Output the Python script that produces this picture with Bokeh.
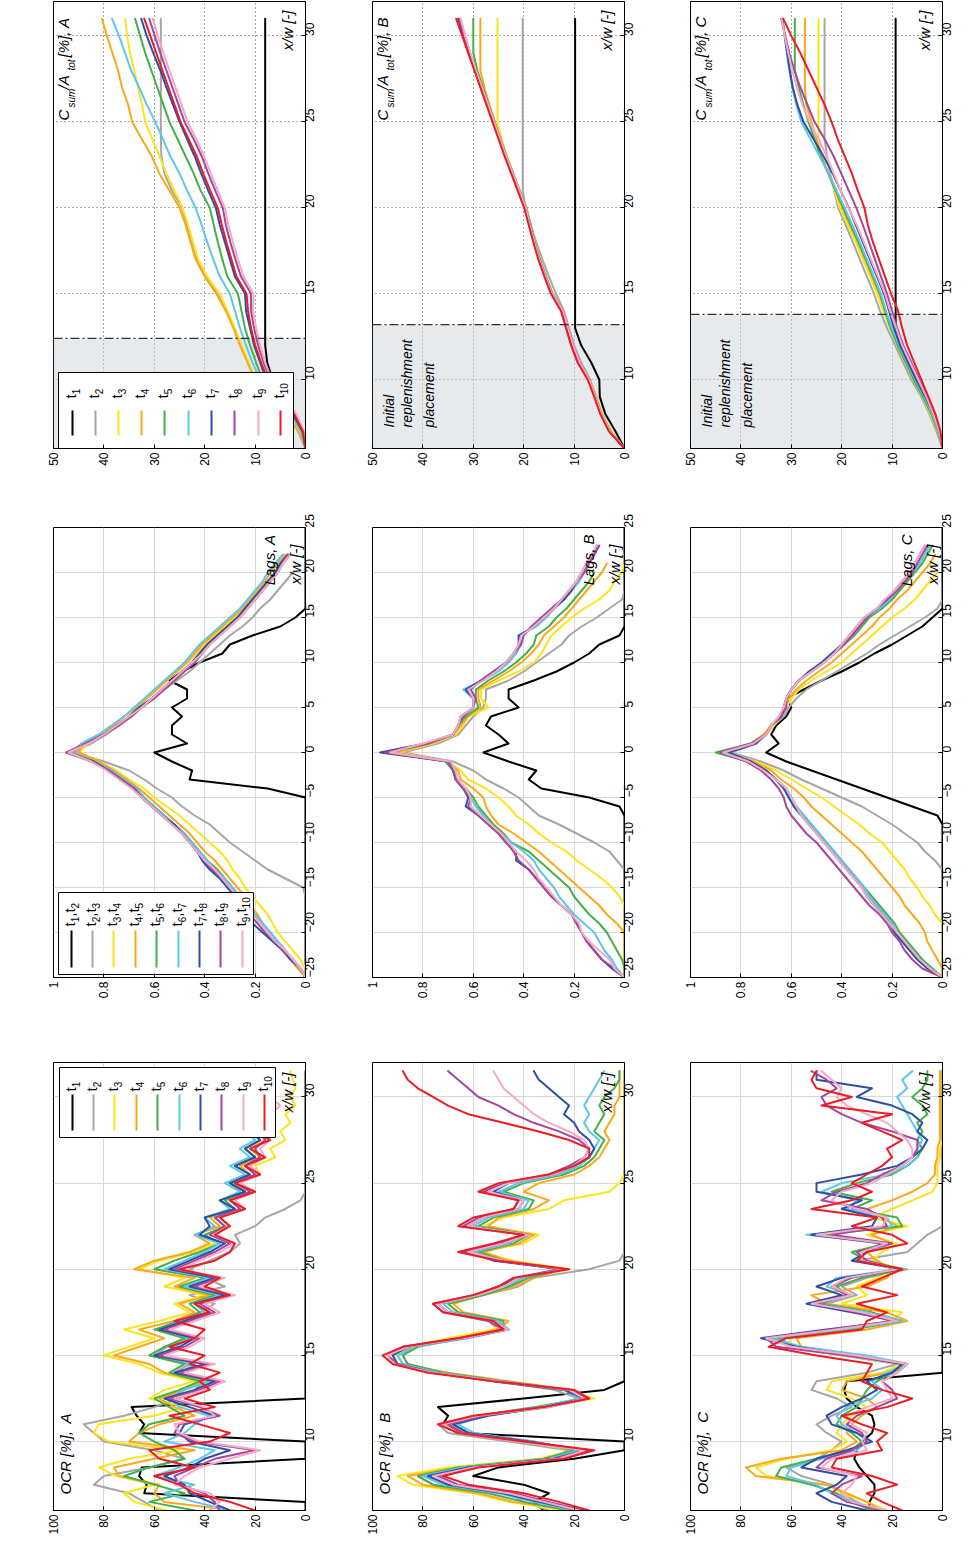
import math
import numpy as np
from bokeh.plotting import figure
from bokeh.layouts import column, row
from bokeh.models import Range1d, FixedTicker, Label, BoxAnnotation, Span
from bokeh.embed import file_html
from bokeh.resources import INLINE

# ---------------- data ----------------
SERIES = ["t1", "t2", "t3", "t4", "t5", "t6", "t7", "t8", "t9", "t10"]
COLORS = ["#000000", "#a6a6a6", "#fbe51a", "#fba81b", "#44b04a", "#5cc7ea",
          "#2b4ea6", "#a6479d", "#f6a9c5", "#ec1c24"]
# legend entries as (text, is_subscript) pieces
LEG_T = [[("t", False), (str(i), True)] for i in range(1, 11)]
LEG_LAG = [[("t", False), (str(i), True), (",t", False), (str(i + 1), True)] for i in range(1, 10)]
ROW_LETTERS = ["A", "B", "C"]

# x/w sample positions for OCR panels (a)
XW_OCR = [6.0, 6.5, 7.0, 7.5, 8.0, 8.5, 9.0, 9.5, 10.0, 10.5,
          11.0, 11.5, 12.0, 12.5, 13.0, 13.5, 14.0, 14.5, 15.0, 15.5,
          16.0, 16.5, 17.0, 17.5, 18.0, 18.5, 19.0, 19.5, 20.0, 20.5,
          21.0, 21.5, 22.0, 22.5, 23.0, 23.5, 24.0, 24.5, 25.0, 25.5,
          26.0, 26.5, 27.0, 27.5, 28.0, 28.5, 29.0, 29.5, 30.0, 30.5,
          31.0, 31.5]
# lag positions for panels (b)
LAGS = list(range(-25, 26))
# x/w positions for cumulative panels (c)
XW_CUM = list(range(6, 32))

N = None
ocr_A = [
 [0, 0, 64, 63, 66, 65, 0, 0, 0, 66,  64, 67, 69, 0, 0, 0, 0, 0, 0, 0,
  0, 0, 0, 0, 0, 0, 0, 0, 0, 0,  0, 0, 0, 0, 0, 0, 0, 0, 0, 0,
  0, 0, 0, 0, 0, 0, 0, 0, 0, 0,  0, 0],
 [58, 64, 70, 84, 80, 62, 48, 60, 80, 84,  88, 72, 60, 50, 44, 40, 52, 46, 60, 55,
  47, 56, 50, 42, 36, 46, 32, 40, 46, 38,  30, 26, 28, 20, 16, 8, 2, 0, 0, 0,
  0, 0, 0, 0, 0, 0, 0, 0, 0, 0,  0, 0],
 [55, 68, 72, 60, 75, 82, 70, 50, 78, 84,  82, 60, 48, 62, 56, 44, 58, 66, 80, 70,
  60, 72, 58, 46, 52, 40, 56, 48, 66, 58,  44, 36, 40, 30, 34, 26, 30, 22, 28, 18,
  20, 12, 14, 8, 10, 6, 8, 4, 6, 4,  5, 6],
 [28, 56, 60, 58, 74, 76, 60, 44, 70, 66,  58, 44, 52, 58, 48, 40, 56, 62, 76, 66,
  56, 66, 52, 44, 50, 38, 52, 44, 68, 60,  46, 38, 44, 34, 38, 30, 34, 26, 30, 22,
  26, 18, 22, 16, 20, 14, 18, 12, 16, 14,  18, 20],
 [44, 62, 48, 60, 72, 62, 48, 52, 60, 66,  62, 48, 54, 60, 50, 42, 54, 48, 62, 56,
  48, 60, 50, 42, 46, 36, 50, 40, 60, 52,  42, 34, 40, 32, 36, 28, 32, 24, 30, 22,
  28, 20, 24, 18, 22, 16, 20, 14, 18, 16,  20, 22],
 [30, 44, 56, 44, 60, 50, 42, 36, 56, 48,  44, 38, 50, 54, 48, 38, 50, 44, 58, 52,
  46, 56, 50, 40, 44, 34, 48, 38, 56, 48,  40, 34, 44, 36, 40, 30, 34, 26, 32, 24,
  30, 22, 26, 20, 24, 18, 22, 16, 20, 18,  22, 24],
 [30, 38, 46, 48, 56, 46, 40, 30, 46, 50,  48, 36, 46, 56, 44, 36, 52, 40, 60, 50,
  44, 58, 48, 38, 44, 32, 46, 36, 54, 46,  38, 32, 42, 38, 40, 28, 34, 24, 30, 22,
  28, 20, 24, 18, 22, 16, 18, 14, 18, 20,  24, 26],
 [34, 36, 40, 50, 52, 44, 36, 20, 44, 52,  50, 34, 42, 54, 42, 34, 50, 38, 58, 48,
  42, 56, 46, 36, 42, 30, 44, 34, 52, 44,  36, 30, 38, 32, 36, 26, 30, 22, 28, 20,
  24, 18, 20, 16, 18, 14, 16, 12, 16, 18,  20, 22],
 [38, 34, 38, 52, 48, 42, 30, 18, 42, 50,  52, 36, 40, 52, 40, 32, 48, 36, 56, 46,
  40, 54, 44, 34, 40, 28, 42, 32, 50, 42,  34, 28, 36, 30, 34, 24, 28, 20, 26, 18,
  22, 16, 18, 14, 16, 12, 14, 10, 14, 16,  18, 20],
 [20, 30, 44, 50, 60, 44, 58, 62, 38, 30,  42, 54, 36, 48, 38, 42, 34, 46, 40, 54,
  44, 40, 52, 38, 44, 30, 40, 34, 50, 36,  30, 28, 36, 30, 34, 24, 30, 20, 28, 18,
  24, 16, 22, 14, 20, 14, 18, 12, 16, 14,  18, 20],
]
ocr_B = [
 [32, 36, 30, 40, 60, 50, 20, 0, 0, 64,  72, 70, 74, 40, 8, 0, 0, 0, 0, 0,
  0, 0, 0, 0, 0, 0, 0, 0, 0, 0,  0, 0, 0, 0, 0, 0, 0, 0, 0, 0,
  0, 0, 0, 0, 0, 0, 0, 0, 0, 0,  0, 0],
 [30, 40, 46, 76, 82, 64, 30, 22, 46, 70,  74, 56, 30, 18, 28, 52, 72, 86, 88, 84,
  66, 50, 54, 70, 74, 56, 42, 36, 14, 2,  0, 0, 0, 0, 0, 0, 0, 0, 0, 0,
  0, 0, 0, 0, 0, 0, 0, 0, 0, 0,  0, 0],
 [24, 46, 60, 84, 90, 70, 34, 20, 40, 66,  72, 60, 32, 12, 22, 50, 74, 90, 92, 86,
  70, 52, 48, 66, 70, 60, 46, 40, 22, 44,  58, 40, 34, 56, 48, 30, 24, 6, 2, 0,
  0, 0, 0, 0, 0, 0, 0, 0, 0, 0,  0, 0],
 [20, 44, 58, 80, 86, 66, 30, 18, 38, 64,  70, 58, 34, 14, 20, 46, 70, 88, 90, 84,
  66, 50, 46, 64, 68, 56, 44, 36, 24, 46,  56, 42, 36, 54, 50, 36, 30, 40, 34, 20,
  14, 10, 8, 6, 8, 6, 4, 4, 2, 2,  2, 2],
 [22, 40, 54, 76, 82, 66, 32, 20, 36, 62,  68, 58, 36, 16, 22, 48, 72, 86, 88, 82,
  64, 48, 48, 66, 70, 56, 46, 38, 24, 48,  58, 44, 38, 58, 52, 38, 36, 48, 40, 24,
  16, 12, 10, 8, 12, 10, 8, 10, 8, 4,  2, 2],
 [20, 36, 50, 72, 80, 64, 30, 18, 36, 60,  66, 56, 34, 18, 24, 50, 74, 88, 90, 84,
  62, 46, 50, 68, 72, 58, 48, 40, 26, 50,  60, 46, 40, 60, 54, 40, 38, 50, 42, 26,
  18, 14, 12, 10, 14, 16, 14, 16, 14, 12,  10, 8],
 [18, 34, 48, 70, 78, 62, 28, 16, 38, 62,  68, 54, 32, 16, 24, 52, 76, 90, 92, 86,
  64, 46, 52, 70, 74, 58, 50, 42, 24, 52,  62, 48, 38, 62, 56, 42, 40, 52, 46, 28,
  20, 14, 12, 14, 18, 20, 24, 22, 26, 30,  34, 36],
 [16, 30, 44, 66, 74, 60, 28, 14, 40, 64,  70, 56, 30, 14, 22, 50, 76, 90, 94, 88,
  66, 48, 54, 72, 76, 60, 50, 44, 26, 50,  64, 50, 40, 64, 58, 44, 42, 56, 48, 30,
  22, 16, 14, 18, 26, 36, 44, 50, 58, 62,  66, 70],
 [18, 32, 46, 68, 76, 60, 26, 16, 42, 66,  72, 58, 30, 16, 22, 50, 76, 92, 94, 86,
  64, 46, 52, 70, 74, 58, 48, 42, 24, 48,  62, 48, 38, 62, 56, 42, 40, 54, 46, 28,
  20, 16, 14, 16, 22, 30, 36, 40, 44, 48,  50, 52],
 [14, 26, 40, 62, 72, 58, 24, 12, 40, 66,  74, 60, 32, 14, 20, 52, 78, 92, 96, 88,
  66, 48, 52, 72, 76, 60, 50, 44, 22, 50,  66, 52, 40, 66, 60, 44, 42, 58, 50, 30,
  20, 14, 14, 22, 34, 48, 62, 70, 76, 82,  86, 88],
]
ocr_C = [
 [29, 29, 27, 27, 30, 33, 35, 34, 32, 28,  27, 28, 34, 38, 39, 38, 0, 0, 0, 0,
  0, 0, 0, 0, 0, 0, 0, 0, 0, 0,  0, 0, 0, 0, 0, 0, 0, 0, 0, 0,
  0, 0, 0, 0, 0, 0, 0, 0, 0, 0,  0, 0],
 [28, 34, 40, 44, 56, 62, 50, 44, 40, 46,  50, 44, 36, 42, 52, 50, 30, 18, 40, 60,
  64, 38, 18, 30, 46, 34, 40, 30, 14, 34,  14, 10, 6, 0, 0, 0, 0, 0, 0, 0,
  0, 0, 0, 0, 0, 0, 0, 0, 0, 0,  0, 0],
 [22, 30, 40, 46, 70, 74, 62, 44, 38, 42,  40, 36, 30, 36, 46, 44, 24, 16, 38, 62,
  60, 34, 20, 16, 40, 30, 34, 26, 16, 28,  24, 18, 30, 14, 28, 20, 12, 4, 2, 2,
  2, 1, 1, 0, 0, 0, 0, 0, 0, 0,  0, 0],
 [24, 30, 38, 46, 74, 78, 64, 40, 34, 38,  36, 32, 26, 30, 40, 38, 22, 14, 34, 56,
  58, 30, 14, 22, 46, 52, 30, 22, 20, 26,  30, 20, 28, 18, 24, 30, 20, 12, 6, 3,
  3, 2, 2, 1, 1, 1, 1, 1, 1, 1,  1, 1],
 [28, 36, 42, 52, 66, 64, 50, 36, 32, 36,  42, 40, 34, 32, 30, 26, 20, 14, 32, 58,
  66, 36, 16, 28, 48, 38, 42, 32, 16, 30,  36, 22, 48, 16, 18, 36, 28, 44, 34, 20,
  14, 10, 8, 10, 8, 10, 6, 8, 12, 8,  6, 6],
 [26, 34, 44, 50, 62, 60, 48, 34, 30, 34,  40, 42, 38, 28, 24, 28, 22, 14, 30, 56,
  68, 40, 16, 30, 50, 36, 46, 42, 18, 34,  30, 20, 54, 20, 22, 38, 34, 48, 40, 22,
  14, 10, 10, 8, 10, 12, 14, 16, 18, 14,  16, 12],
 [30, 44, 50, 42, 38, 56, 50, 38, 28, 34,  44, 46, 40, 32, 26, 30, 20, 16, 36, 58,
  72, 46, 18, 36, 54, 40, 50, 40, 16, 36,  30, 24, 52, 28, 26, 40, 32, 50, 50, 32,
  18, 12, 8, 6, 10, 8, 12, 20, 34, 28,  50, 50],
 [24, 38, 44, 40, 32, 50, 46, 36, 30, 32,  38, 34, 26, 18, 20, 24, 18, 14, 38, 66,
  70, 44, 20, 34, 50, 38, 44, 36, 18, 30,  34, 20, 44, 22, 24, 30, 48, 42, 30, 24,
  16, 12, 10, 10, 20, 32, 40, 46, 48, 42,  46, 52],
 [22, 36, 40, 36, 34, 48, 44, 30, 32, 30,  36, 38, 30, 20, 22, 24, 18, 14, 34, 60,
  70, 42, 18, 32, 52, 36, 44, 38, 18, 32,  32, 22, 50, 24, 22, 34, 44, 40, 28, 22,
  16, 12, 12, 14, 18, 22, 30, 38, 42, 40,  44, 48],
 [16, 24, 30, 18, 28, 44, 42, 24, 26, 22,  32, 40, 22, 12, 24, 32, 30, 28, 50, 69,
  62, 32, 30, 22, 34, 18, 32, 24, 16, 34,  30, 14, 20, 36, 26, 52, 36, 28, 36, 30,
  24, 20, 22, 16, 24, 32, 20, 48, 36, 50,  52, 50],
]

lag_A = [
 [0, 0, 0, 0, 0, 0, 0, 0, 0, 0,  0, 0, 0, 0, 0, 0, 0, 0, 0, 0,
  0, 0.15, 0.46, 0.45, 0.53, 0.60, 0.47, 0.53, 0.53, 0.49,
  0.53, 0.47, 0.47, 0.54, 0.49, 0.42, 0.33, 0.30, 0.21, 0.10,
  0.04, 0, 0, 0, 0, 0, 0, 0, 0, 0,  0],
 [0, 0, 0, 0, 0, 0, 0, 0, 0, 0,
  0.01, 0.08, 0.15, 0.20, 0.25, 0.30, 0.34, 0.38, 0.44, 0.49,
  0.53, 0.59, 0.64, 0.70, 0.80, 0.92, 0.85, 0.79, 0.74, 0.70,
  0.65, 0.61, 0.56, 0.51, 0.46, 0.42, 0.38, 0.34, 0.30, 0.25,
  0.21, 0.18, 0.14, 0.11, 0.08, 0.05, N, N, N, N,  N],
 [0, 0, 0.02, 0.05, 0.08, 0.11, 0.13, 0.15, 0.18, 0.21,
  0.24, 0.26, 0.29, 0.31, 0.34, 0.38, 0.42, 0.46, 0.50, 0.55,
  0.60, 0.64, 0.70, 0.75, 0.82, 0.90, 0.86, 0.82, 0.77, 0.72,
  0.67, 0.63, 0.59, 0.55, 0.51, 0.47, 0.43, 0.40, 0.36, 0.32,
  0.28, 0.24, 0.21, 0.18, 0.15, 0.12, 0.10, 0.07, N, N,  N],
 [0, 0.03, 0.06, 0.09, 0.12, 0.16, 0.17, 0.19, 0.22, 0.24,
  0.27, 0.30, 0.33, 0.36, 0.40, 0.43, 0.46, 0.50, 0.54, 0.58,
  0.62, 0.66, 0.71, 0.76, 0.82, 0.90, 0.88, 0.81, 0.76, 0.72,
  0.67, 0.63, 0.59, 0.55, 0.51, 0.47, 0.44, 0.41, 0.37, 0.33,
  0.29, 0.25, 0.22, 0.19, 0.16, 0.14, 0.11, 0.08, N, N,  N],
 [0, 0.02, 0.05, 0.08, 0.11, 0.14, 0.17, 0.20, 0.23, 0.26,
  0.29, 0.32, 0.35, 0.39, 0.42, 0.45, 0.48, 0.52, 0.56, 0.60,
  0.64, 0.67, 0.72, 0.77, 0.84, 0.93, 0.87, 0.80, 0.75, 0.70,
  0.66, 0.61, 0.57, 0.53, 0.49, 0.45, 0.42, 0.39, 0.35, 0.31,
  0.27, 0.23, 0.20, 0.17, 0.14, 0.12, 0.09, 0.06, N, N,  N],
 [0, 0.02, 0.05, 0.08, 0.11, 0.14, 0.17, 0.20, 0.23, 0.26,
  0.29, 0.32, 0.36, 0.39, 0.42, 0.45, 0.48, 0.52, 0.56, 0.60,
  0.64, 0.67, 0.72, 0.77, 0.84, 0.93, 0.89, 0.82, 0.77, 0.72,
  0.68, 0.64, 0.60, 0.56, 0.52, 0.48, 0.45, 0.42, 0.38, 0.34,
  0.30, 0.26, 0.23, 0.20, 0.17, 0.15, 0.12, 0.09, N, N,  N],
 [0, 0.02, 0.06, 0.09, 0.13, 0.17, 0.21, 0.23, 0.26, 0.28,
  0.31, 0.34, 0.38, 0.41, 0.43, 0.46, 0.49, 0.52, 0.57, 0.61,
  0.65, 0.68, 0.73, 0.78, 0.84, 0.94, 0.87, 0.80, 0.75, 0.70,
  0.66, 0.61, 0.57, 0.53, 0.49, 0.45, 0.42, 0.39, 0.35, 0.31,
  0.27, 0.24, 0.21, 0.18, 0.15, 0.12, 0.10, 0.07, N, N,  N],
 [0, 0.02, 0.05, 0.09, 0.12, 0.16, 0.19, 0.22, 0.25, 0.27,
  0.30, 0.33, 0.37, 0.40, 0.43, 0.46, 0.49, 0.53, 0.57, 0.61,
  0.65, 0.68, 0.73, 0.78, 0.85, 0.95, 0.87, 0.80, 0.74, 0.69,
  0.65, 0.60, 0.56, 0.52, 0.48, 0.44, 0.41, 0.38, 0.34, 0.30,
  0.26, 0.23, 0.20, 0.17, 0.14, 0.11, 0.09, 0.07, N, N,  N],
 [0, 0.02, 0.05, 0.08, 0.12, 0.15, 0.18, 0.21, 0.24, 0.27,
  0.30, 0.33, 0.36, 0.40, 0.43, 0.46, 0.49, 0.53, 0.57, 0.61,
  0.65, 0.69, 0.74, 0.79, 0.85, 0.94, 0.86, 0.80, 0.75, 0.70,
  0.65, 0.61, 0.57, 0.53, 0.49, 0.45, 0.41, 0.38, 0.34, 0.30,
  0.26, 0.23, 0.20, 0.17, 0.14, 0.11, 0.09, 0.06, N, N,  N],
]
lag_B = [
 [0, 0, 0, 0, 0, 0, 0, 0, 0, 0,  0, 0, 0, 0, 0, 0, 0, 0, 0, 0.02,
  0.14, 0.33, 0.38, 0.35, 0.46, 0.56, 0.46, 0.50, 0.55, 0.53,
  0.42, 0.46, 0.46, 0.36, 0.27, 0.20, 0.14, 0.10, 0.02, 0,
  0, 0, 0, 0, 0, 0, 0, 0, 0, 0,  0],
 [0, 0, 0, 0, 0, 0, 0, 0, 0, 0,
  0, 0, 0, 0.03, 0.06, 0.12, 0.19, 0.26, 0.34, 0.38,
  0.42, 0.48, 0.55, 0.60, 0.68, 0.88, 0.74, 0.66, 0.63, 0.60,
  0.56, 0.55, 0.55, 0.46, 0.40, 0.35, 0.30, 0.25, 0.22, 0.17,
  0.11, 0.06, 0.01, 0, N, N, N, N, N, N,  N],
 [0, 0, 0, 0, 0, 0, 0, 0, 0, 0.02,
  0.05, 0.09, 0.14, 0.19, 0.23, 0.29, 0.34, 0.38, 0.43, 0.46,
  0.50, 0.55, 0.62, 0.65, 0.70, 0.90, 0.76, 0.67, 0.64, 0.62,
  0.54, 0.57, 0.57, 0.50, 0.42, 0.36, 0.33, 0.31, 0.29, 0.25,
  0.21, 0.16, 0.10, 0.06, 0.04, 0.01, 0, 0, N, N,  N],
 [0, 0, 0, 0, 0, 0, 0.03, 0.07, 0.10, 0.14,
  0.18, 0.22, 0.26, 0.30, 0.34, 0.39, 0.44, 0.50, 0.53, 0.55,
  0.56, 0.60, 0.65, 0.66, 0.70, 0.91, 0.77, 0.68, 0.65, 0.62,
  0.57, 0.58, 0.58, 0.52, 0.46, 0.41, 0.37, 0.34, 0.32, 0.28,
  0.24, 0.21, 0.18, 0.15, 0.12, 0.09, 0.07, N, N, N,  N],
 [0, 0, 0.01, 0.03, 0.05, 0.07, 0.10, 0.14, 0.17, 0.20,
  0.22, 0.26, 0.30, 0.34, 0.38, 0.45, 0.48, 0.52, 0.55, 0.58,
  0.60, 0.63, 0.67, 0.68, 0.71, 0.93, 0.78, 0.68, 0.66, 0.63,
  0.58, 0.59, 0.59, 0.54, 0.48, 0.43, 0.39, 0.36, 0.35, 0.30,
  0.27, 0.23, 0.20, 0.17, 0.14, 0.12, N, N, N, N,  N],
 [0, 0.03, 0.05, 0.08, 0.10, 0.12, 0.16, 0.20, 0.23, 0.26,
  0.28, 0.31, 0.34, 0.36, 0.40, 0.45, 0.49, 0.53, 0.56, 0.59,
  0.61, 0.64, 0.67, 0.67, 0.70, 0.94, 0.79, 0.68, 0.66, 0.64,
  0.60, 0.60, 0.64, 0.56, 0.50, 0.46, 0.43, 0.41, 0.42, 0.35,
  0.31, 0.28, 0.24, 0.21, 0.18, 0.16, 0.15, 0.12, 0.10, N,  N],
 [0, 0.05, 0.09, 0.12, 0.15, 0.17, 0.19, 0.21, 0.25, 0.29,
  0.32, 0.35, 0.38, 0.43, 0.43, 0.47, 0.50, 0.54, 0.58, 0.63,
  0.62, 0.64, 0.67, 0.68, 0.70, 0.97, 0.79, 0.68, 0.66, 0.65,
  0.60, 0.60, 0.63, 0.57, 0.52, 0.47, 0.44, 0.42, 0.42, 0.36,
  0.32, 0.28, 0.24, 0.21, 0.19, 0.17, 0.15, 0.12, 0.11, N,  N],
 [0, 0.04, 0.09, 0.12, 0.15, 0.17, 0.19, 0.21, 0.25, 0.29,
  0.32, 0.35, 0.38, 0.42, 0.44, 0.47, 0.50, 0.54, 0.58, 0.62,
  0.61, 0.64, 0.67, 0.68, 0.70, 0.95, 0.78, 0.68, 0.66, 0.64,
  0.60, 0.59, 0.61, 0.57, 0.52, 0.47, 0.44, 0.41, 0.40, 0.37,
  0.33, 0.29, 0.25, 0.22, 0.19, 0.16, 0.14, 0.12, 0.10, N,  N],
 [0, 0.04, 0.06, 0.10, 0.14, 0.17, 0.18, 0.21, 0.25, 0.28,
  0.31, 0.34, 0.36, 0.39, 0.43, 0.46, 0.49, 0.53, 0.57, 0.61,
  0.61, 0.63, 0.66, 0.67, 0.69, 0.93, 0.80, 0.68, 0.66, 0.65,
  0.60, 0.60, 0.62, 0.56, 0.51, 0.47, 0.44, 0.42, 0.41, 0.36,
  0.32, 0.28, 0.25, 0.22, 0.19, 0.17, 0.15, 0.13, 0.11, N,  N],
]
lag_C = [
 [0, 0, 0, 0, 0, 0, 0, 0, 0, 0,  0, 0, 0, 0, 0, 0, 0, 0, 0.02, 0.12,
  0.22, 0.32, 0.42, 0.52, 0.62, 0.70, 0.65, 0.68, 0.66, 0.62,
  0.60, 0.62, 0.55, 0.48, 0.40, 0.33, 0.27, 0.20, 0.14, 0.08,
  0.04, 0, 0, 0, 0, 0, 0, 0, 0, 0,  0],
 [0, 0, 0, 0, 0, 0, 0, 0, 0, 0,
  0, 0, 0, 0.03, 0.07, 0.10, 0.15, 0.20, 0.26, 0.32,
  0.40, 0.48, 0.56, 0.63, 0.72, 0.84, 0.74, 0.70, 0.67, 0.63,
  0.61, 0.58, 0.54, 0.48, 0.42, 0.36, 0.30, 0.25, 0.19, 0.13,
  0.07, 0.02, 0, N, N, N, N, N, N, N,  N],
 [0, 0, 0, 0, 0, 0, 0, 0.03, 0.05, 0.08,
  0.10, 0.13, 0.15, 0.18, 0.21, 0.24, 0.29, 0.33, 0.38, 0.43,
  0.48, 0.54, 0.60, 0.66, 0.74, 0.88, 0.76, 0.70, 0.67, 0.64,
  0.62, 0.60, 0.57, 0.52, 0.46, 0.40, 0.36, 0.32, 0.28, 0.24,
  0.20, 0.15, 0.11, 0.08, 0.05, 0.02, N, N, N, N,  N],
 [0, 0, 0.02, 0.04, 0.06, 0.07, 0.09, 0.12, 0.15, 0.17,
  0.20, 0.23, 0.26, 0.29, 0.32, 0.36, 0.40, 0.44, 0.48, 0.52,
  0.55, 0.59, 0.64, 0.68, 0.75, 0.87, 0.76, 0.71, 0.68, 0.64,
  0.63, 0.61, 0.58, 0.54, 0.49, 0.44, 0.40, 0.36, 0.32, 0.28,
  0.25, 0.21, 0.18, 0.14, 0.11, 0.08, 0.05, 0.03, N, N,  N],
 [0, 0.04, 0.08, 0.11, 0.14, 0.17, 0.19, 0.22, 0.25, 0.28,
  0.31, 0.34, 0.37, 0.40, 0.43, 0.46, 0.49, 0.52, 0.55, 0.58,
  0.60, 0.62, 0.66, 0.70, 0.77, 0.90, 0.76, 0.70, 0.68, 0.64,
  0.63, 0.62, 0.60, 0.57, 0.52, 0.47, 0.43, 0.39, 0.35, 0.32,
  0.29, 0.24, 0.20, 0.17, 0.14, 0.11, 0.08, 0.06, 0.04, N,  N],
 [0, 0.05, 0.09, 0.12, 0.15, 0.18, 0.20, 0.23, 0.26, 0.29,
  0.31, 0.34, 0.37, 0.40, 0.43, 0.46, 0.49, 0.52, 0.55, 0.58,
  0.60, 0.62, 0.66, 0.70, 0.76, 0.86, 0.75, 0.70, 0.68, 0.64,
  0.63, 0.62, 0.60, 0.57, 0.52, 0.47, 0.43, 0.40, 0.36, 0.33,
  0.30, 0.25, 0.21, 0.18, 0.15, 0.12, 0.09, 0.07, 0.05, N,  N],
 [0, 0.06, 0.10, 0.13, 0.16, 0.19, 0.21, 0.24, 0.27, 0.30,
  0.32, 0.35, 0.38, 0.41, 0.44, 0.47, 0.50, 0.53, 0.56, 0.59,
  0.61, 0.63, 0.66, 0.70, 0.76, 0.85, 0.74, 0.70, 0.68, 0.64,
  0.63, 0.62, 0.60, 0.57, 0.53, 0.48, 0.44, 0.40, 0.37, 0.34,
  0.31, 0.26, 0.22, 0.19, 0.16, 0.13, 0.11, 0.09, 0.07, N,  N],
 [0, 0.08, 0.12, 0.15, 0.17, 0.20, 0.22, 0.25, 0.29, 0.32,
  0.35, 0.38, 0.41, 0.44, 0.47, 0.50, 0.54, 0.57, 0.60, 0.62,
  0.63, 0.65, 0.68, 0.72, 0.78, 0.88, 0.76, 0.70, 0.68, 0.64,
  0.62, 0.62, 0.60, 0.57, 0.52, 0.47, 0.43, 0.39, 0.36, 0.33,
  0.30, 0.26, 0.22, 0.18, 0.15, 0.12, 0.10, 0.08, 0.06, N,  N],
 [0, 0.05, 0.09, 0.12, 0.15, 0.18, 0.21, 0.24, 0.27, 0.30,
  0.32, 0.35, 0.38, 0.41, 0.44, 0.47, 0.50, 0.53, 0.56, 0.58,
  0.60, 0.62, 0.66, 0.71, 0.77, 0.87, 0.75, 0.70, 0.68, 0.65,
  0.63, 0.62, 0.60, 0.57, 0.52, 0.47, 0.43, 0.40, 0.37, 0.34,
  0.31, 0.26, 0.23, 0.19, 0.16, 0.13, 0.11, 0.09, 0.07, N,  N],
]

cum_A = [
 [0, 0.5, 2.0, 4.2, 6.5, 7.6, 8.0, 8.0, 8.0, 8.0, 8.0, 8.0, 8.0, 8.0, 8.0, 8.0, 8.0, 8.0, 8.0, 8.0, 8.0, 8.0, 8.0, 8.0, 8.0, 8.0],
 [0, 1.4, 3.6, 6.8, 9.8, 11.3, 12.8, 14.1, 15.6, 17.5, 19.8, 21.6, 22.6, 23.6, 24.5, 26.5, 28.0, 28.6, 28.7, 28.7, 28.7, 28.7, 28.7, 28.7, 28.7, 28.7],
 [0, 1.2, 3.5, 6.5, 9.7, 11.3, 12.7, 14.0, 15.5, 17.0, 19.5, 21.3, 22.3, 23.3, 24.4, 26.0, 27.6, 29.0, 30.4, 31.8, 32.4, 33.2, 34.0, 34.8, 35.4, 35.8],
 [0, 1.5, 3.7, 7.0, 10.0, 11.5, 13.0, 14.3, 15.8, 17.7, 20.0, 21.8, 22.8, 23.8, 25.0, 27.0, 29.0, 30.5, 32.5, 34.4, 35.2, 36.4, 37.2, 38.3, 39.4, 40.4],
 [0, 0.8, 2.8, 5.5, 8.5, 9.8, 11.0, 12.0, 12.7, 13.4, 15.5, 16.5, 17.4, 18.2, 19.0, 20.8, 22.2, 23.8, 25.4, 27.0, 28.2, 29.4, 30.6, 31.8, 32.8, 33.8],
 [0, 1.0, 3.0, 6.0, 9.0, 10.5, 11.8, 13.0, 14.0, 15.0, 17.0, 18.3, 19.5, 20.6, 21.8, 23.5, 25.0, 26.8, 28.3, 29.8, 31.5, 33.0, 34.6, 35.8, 37.0, 38.4],
 [0, 0.6, 2.5, 5.0, 7.8, 9.0, 10.2, 11.0, 11.8, 12.0, 14.0, 15.0, 16.0, 17.0, 17.8, 19.3, 20.7, 22.0, 23.5, 25.0, 26.3, 27.6, 28.8, 30.2, 31.5, 32.6],
 [0, 0.4, 2.0, 4.4, 7.0, 8.3, 9.4, 10.2, 10.8, 10.8, 12.8, 13.9, 14.9, 15.8, 16.4, 17.9, 19.3, 20.6, 22.2, 24.0, 25.2, 26.4, 27.6, 28.8, 29.9, 31.0],
 [0, 0.3, 1.8, 4.2, 6.7, 8.0, 9.0, 9.8, 10.4, 10.3, 12.3, 13.4, 14.4, 15.3, 16.0, 17.4, 18.8, 20.1, 21.7, 23.4, 24.6, 25.8, 27.0, 28.2, 29.3, 30.3],
 [0, 0.5, 2.3, 4.8, 7.5, 8.8, 10.0, 10.8, 11.4, 11.7, 13.7, 14.7, 15.7, 16.6, 17.4, 18.9, 20.3, 21.6, 23.2, 24.8, 26.0, 27.2, 28.4, 29.6, 30.8, 32.0],
]
cum_B = [
 [0, 1.8, 3.8, 4.9, 5.0, 6.6, 8.6, 9.8, 9.8, 9.8, 9.8, 9.8, 9.8, 9.8, 9.8, 9.8, 9.8, 9.8, 9.8, 9.8, 9.8, 9.8, 9.8, 9.8, 9.8, 9.8],
 [0, 2.8, 4.4, 5.6, 6.8, 8.6, 10.0, 11.0, 12.0, 13.6, 15.0, 16.3, 17.5, 18.6, 19.6, 20.2, 20.2, 20.2, 20.2, 20.2, 20.2, 20.2, 20.2, 20.2, 20.2, 20.2],
 [0, 2.6, 4.4, 5.6, 6.9, 9.0, 10.3, 11.3, 12.3, 14.2, 15.5, 16.7, 17.7, 18.6, 19.5, 20.8, 22.1, 23.3, 24.4, 25.2, 25.2, 25.2, 25.2, 25.2, 25.2, 25.2],
 [0, 2.7, 4.5, 5.7, 7.0, 9.0, 10.3, 11.3, 12.3, 14.3, 15.6, 16.8, 17.8, 18.6, 19.5, 20.8, 22.1, 23.4, 24.6, 25.7, 26.8, 27.8, 28.6, 28.6, 28.6, 28.6],
 [0, 2.8, 4.6, 5.8, 7.2, 9.2, 10.5, 11.4, 12.4, 14.3, 15.6, 16.8, 17.8, 18.6, 19.5, 20.8, 22.1, 23.4, 24.6, 25.8, 27.0, 28.1, 29.2, 30.0, 30.0, 30.0],
 [0, 2.9, 4.6, 5.8, 7.1, 9.1, 10.4, 11.4, 12.4, 14.3, 15.6, 16.8, 17.8, 18.7, 19.6, 20.9, 22.2, 23.5, 24.7, 25.9, 27.1, 28.3, 29.5, 30.6, 31.6, 32.6],
 [0, 3.0, 4.7, 5.9, 7.0, 9.0, 10.3, 11.3, 12.3, 14.4, 15.7, 16.9, 17.9, 18.8, 19.7, 21.0, 22.3, 23.6, 24.8, 26.0, 27.3, 28.5, 29.7, 30.9, 32.0, 33.0],
 [0, 3.0, 4.6, 5.8, 7.0, 8.9, 10.2, 11.2, 12.2, 14.4, 15.7, 16.9, 17.9, 18.8, 19.7, 21.0, 22.3, 23.6, 24.8, 26.0, 27.2, 28.4, 29.6, 30.8, 31.8, 32.8],
 [0, 2.9, 4.6, 5.8, 7.0, 8.9, 10.2, 11.2, 12.2, 14.4, 15.7, 16.9, 17.9, 18.8, 19.6, 20.9, 22.2, 23.5, 24.7, 25.9, 27.1, 28.3, 29.5, 30.6, 31.6, 32.5],
 [0, 3.1, 4.8, 6.0, 7.3, 9.3, 10.6, 11.6, 12.6, 14.6, 15.9, 17.1, 18.1, 19.0, 19.9, 21.2, 22.5, 23.8, 25.0, 26.2, 27.4, 28.6, 29.8, 31.0, 32.2, 33.4],
]
cum_C = [
 [0, 0.8, 2.2, 3.8, 5.4, 7.0, 8.4, 9.3, 9.3, 9.3, 9.3, 9.3, 9.3, 9.3, 9.3, 9.3, 9.3, 9.3, 9.3, 9.3, 9.3, 9.3, 9.3, 9.3, 9.3, 9.3],
 [0, 1.2, 2.6, 4.2, 6.2, 7.8, 9.4, 11.0, 12.4, 13.6, 15.0, 16.4, 17.8, 19.2, 20.7, 21.5, 22.3, 22.9, 23.4, 23.4, 23.4, 23.4, 23.4, 23.4, 23.4, 23.4],
 [0, 1.0, 2.4, 4.0, 5.8, 7.4, 9.0, 10.4, 11.8, 13.0, 14.4, 15.8, 17.2, 18.8, 20.4, 21.4, 22.6, 24.0, 24.6, 24.6, 24.6, 24.6, 24.6, 24.6, 24.6, 24.6],
 [0, 0.9, 2.2, 3.8, 5.6, 7.2, 8.8, 10.2, 11.4, 12.6, 14.0, 15.4, 16.8, 18.4, 19.9, 21.2, 22.6, 24.0, 25.0, 26.0, 27.0, 27.3, 27.3, 27.3, 27.3, 27.3],
 [0, 0.9, 2.2, 3.9, 5.7, 7.3, 8.9, 10.3, 11.4, 12.4, 13.8, 15.2, 16.7, 18.2, 19.7, 21.2, 22.7, 24.2, 25.4, 26.6, 27.6, 28.5, 29.3, 29.3, 29.3, 29.3],
 [0, 0.8, 2.0, 3.6, 5.4, 7.0, 8.6, 10.0, 11.2, 12.2, 13.6, 15.0, 16.4, 17.9, 19.4, 21.0, 22.6, 24.4, 26.2, 28.0, 29.0, 29.8, 30.4, 30.9, 31.3, 31.7],
 [0, 0.6, 1.8, 3.4, 5.2, 6.8, 8.4, 9.6, 10.6, 11.6, 13.0, 14.4, 15.8, 17.2, 18.6, 20.2, 21.8, 23.6, 25.6, 27.6, 28.8, 29.7, 30.3, 30.8, 31.3, 31.8],
 [0, 0.5, 1.6, 3.0, 4.6, 6.2, 7.8, 9.0, 10.0, 11.0, 12.2, 13.4, 14.6, 15.8, 17.1, 18.6, 20.1, 21.6, 23.4, 25.4, 26.8, 28.2, 29.4, 30.4, 31.2, 32.0],
 [0, 0.6, 1.8, 3.2, 4.8, 6.4, 8.0, 9.2, 10.4, 11.4, 12.8, 14.2, 15.6, 17.0, 18.7, 20.2, 21.6, 23.0, 24.6, 26.4, 27.8, 28.9, 29.8, 30.6, 31.3, 31.9],
 [0, 0.4, 1.4, 2.8, 4.2, 5.6, 7.0, 8.0, 8.8, 10.2, 11.4, 12.6, 13.8, 14.8, 15.5, 16.8, 18.0, 19.4, 20.8, 22.0, 23.4, 25.0, 26.6, 28.2, 30.0, 31.6],
]
# end of the initial replenishment placement zone (x/w) for rows A, B, C
PLACEMENT_END = [12.4, 13.2, 13.8]

for grp, n in ((ocr_A, 52), (ocr_B, 52), (ocr_C, 52), (lag_A, 51), (lag_B, 51), (lag_C, 51),
               (cum_A, 26), (cum_B, 26), (cum_C, 26)):
    for s in grp:
        assert len(s) == n, (len(s), n)

OCR_DATA = [ocr_A, ocr_B, ocr_C]
LAG_DATA = [lag_A, lag_B, lag_C]
CUM_DATA = [cum_A, cum_B, cum_C]

# ---------------- layout ----------------
FONT = "Liberation Sans"
COLS = [dict(bl=53, br=32), dict(bl=35, br=33), dict(bl=33, br=18)]
FW = 252
ROWS = {"c": dict(bt=1, bb=44, fh=447), "b": dict(bt=35, bb=55, fh=450), "a": dict(bt=30, bb=25, fh=448)}
KIND = {
    "a": dict(xr=(100, 0), yr=(6, 32), xt=[0, 20, 40, 60, 80, 100], yt=[10, 15, 20, 25, 30]),
    "b": dict(xr=(1, 0), yr=(-25, 25), xt=[0, 0.2, 0.4, 0.6, 0.8, 1], yt=[-25, -20, -15, -10, -5, 0, 5, 10, 15, 20, 25]),
    "c": dict(xr=(50, 0), yr=(6, 32), xt=[0, 10, 20, 30, 40, 50], yt=[10, 15, 20, 25, 30]),
}
# approximate advance widths (em) for Liberation Sans
ADV = {"t": 0.278, ",": 0.278}


def pos(g, dx, dy):
    x0, x1 = g["xr"]
    y0, y1 = g["yr"]
    return x0 + (x1 - x0) * dx / FW, y1 - (y1 - y0) * dy / g["fh"]


def lab(p, g, dx, dy, text, size=15, italic=True, align="left", font=FONT):
    x, y = pos(g, dx, dy)
    p.add_layout(Label(x=x, y=y, text=text, angle=math.pi / 2, text_align=align,
                       text_baseline="middle", text_font=font,
                       text_font_size=f"{size}px",
                       text_font_style="italic" if italic else "normal",
                       text_color="black"))


def comp(p, g, dx, dy, pieces, main=15, sub=10, shift=5):
    cur = dy
    for text, is_sub in pieces:
        size = sub if is_sub else main
        lab(p, g, dx + (shift if is_sub else 0), cur, text, size=size, italic=False)
        cur -= sum(ADV.get(ch, 0.556) for ch in text) * size


def make_fig(kind, ci):
    k = KIND[kind]
    r = ROWS[kind]
    c = COLS[ci]
    p = figure(x_range=Range1d(*k["xr"]), y_range=Range1d(*k["yr"]),
               frame_width=FW, frame_height=r["fh"],
               min_border_left=c["bl"], min_border_right=c["br"],
               min_border_top=r["bt"], min_border_bottom=r["bb"],
               toolbar_location=None, output_backend="svg", y_axis_location="right")
    p.xaxis.ticker = FixedTicker(ticks=k["xt"])
    p.yaxis.ticker = FixedTicker(ticks=k["yt"])
    if kind == "b":
        p.xaxis.major_label_overrides = {0: "0", 0.2: "0.2", 0.4: "0.4", 0.6: "0.6", 0.8: "0.8", 1: "1"}
    for ax in (p.xaxis[0], p.yaxis[0]):
        ax.major_label_orientation = math.pi / 2
        ax.major_tick_in = 4
        ax.major_tick_out = 0
        ax.minor_tick_line_color = None
        ax.major_label_standoff = 4
        ax.axis_line_color = "black"
        ax.major_tick_line_color = "black"
        ax.major_label_text_font = FONT
        ax.major_label_text_font_size = "12px"
        ax.major_label_text_color = "black"
    p.outline_line_color = "black"
    p.outline_line_alpha = 1.0
    p.background_fill_color = "white"
    p.border_fill_color = "white"
    if kind == "c":
        p.grid.grid_line_color = "#555555"
        p.grid.grid_line_dash = "1 3"
        p.grid.grid_line_width = 1
    else:
        p.grid.grid_line_color = "#d8d8d8"
        p.grid.grid_line_width = 1
    g = dict(xr=k["xr"], yr=k["yr"], fh=r["fh"])
    return p, g


def legend(p, g, box, dxs, line_dy, label_dy, labels, colors):
    xa, ya = pos(g, box[0], box[1])
    xb, yb = pos(g, box[2], box[3])
    p.quad(left=xa, right=xb, top=ya, bottom=yb, fill_color="white", line_color="black", line_width=1)
    for dx, pieces, col in zip(dxs, labels, colors):
        x0, y0 = pos(g, dx, line_dy[0])
        x1, y1 = pos(g, dx, line_dy[1])
        p.segment(x0=x0, y0=y0, x1=x1, y1=y1, line_color=col, line_width=2)
        comp(p, g, dx - 2, label_dy, pieces, main=15, sub=10, shift=5)


def draw(p, xs, ys, col):
    p.line(x=np.array(xs, dtype=float), y=ys, line_color=col, line_width=2,
           line_join="round", line_cap="round")


rows_out = []
# ---- row (c): cumulative ----
figs = []
for ci in range(3):
    p, g = make_fig("c", ci)
    p.add_layout(BoxAnnotation(bottom=6, top=PLACEMENT_END[ci], fill_color="#c9d0d6",
                               fill_alpha=0.45, line_color=None, level="underlay"))
    p.add_layout(Span(location=PLACEMENT_END[ci], dimension="width", line_color="#333333",
                      line_dash="9 3 2 3", line_width=1.2))
    for s, col in zip(CUM_DATA[ci], COLORS):
        draw(p, s, XW_CUM, col)
    if ci == 0:
        legend(p, g, (5, 371, 240, 447.5), [19, 42, 65, 88, 111, 135, 158, 181, 205, 227],
               (409, 434), 397, LEG_T, COLORS)
        lab(p, g, -40, 231, "(c)", size=26, italic=False, align="center", font="Liberation Serif")
    else:
        lab(p, g, 16, 426, "Initial", size=14)
        lab(p, g, 34, 426, "replenishment", size=14)
        lab(p, g, 56, 426, "placement", size=14)
    lab(p, g, 10, 119, "C", size=15)
    lab(p, g, 18, 106, "sum", size=10)
    lab(p, g, 10, 88, "/A", size=15)
    lab(p, g, 18, 69, "tot", size=10)
    lab(p, g, 10, 56, "[%], " + ROW_LETTERS[ci], size=15)
    lab(p, g, 234, 9, "x/w [-]", size=15, align="right")
    figs.append(p)
rows_out.append(row(*figs))

# ---- row (b): lags ----
figs = []
for ci in range(3):
    p, g = make_fig("b", ci)
    for s, col in zip(LAG_DATA[ci], COLORS[:9]):
        draw(p, s, LAGS, col)
    if ci == 0:
        legend(p, g, (5, 365, 200, 447), [18, 39, 60, 82, 103, 125, 146, 167, 189],
               (403, 440), 399, LEG_LAG, COLORS[:9])
        lab(p, g, -40, 230, "(b)", size=26, italic=False, align="center", font="Liberation Serif")
    lab(p, g, 216, 7, "Lags, " + ROW_LETTERS[ci], size=15, align="right")
    lab(p, g, 242, 17, "x/w [-]", size=15, align="right")
    figs.append(p)
rows_out.append(row(*figs))

# ---- row (a): OCR ----
figs = []
for ci in range(3):
    p, g = make_fig("a", ci)
    for s, col in zip(OCR_DATA[ci], COLORS):
        draw(p, s, XW_OCR, col)
    if ci == 0:
        legend(p, g, (6, 5, 222, 75), [19, 40, 61, 83, 104, 126, 147, 168, 190, 211],
               (32, 68), 29, LEG_T, COLORS)
        lab(p, g, -39, 230, "(a)", size=26, italic=False, align="center", font="Liberation Serif")
    lab(p, g, 12, 432, "OCR [%],\u00a0 " + ROW_LETTERS[ci], size=15)
    lab(p, g, 234, 10, "x/w [-]", size=15, align="right")
    figs.append(p)
rows_out.append(row(*figs))

layout = column(*rows_out)
open("out.html", "w").write(file_html(layout, INLINE))
